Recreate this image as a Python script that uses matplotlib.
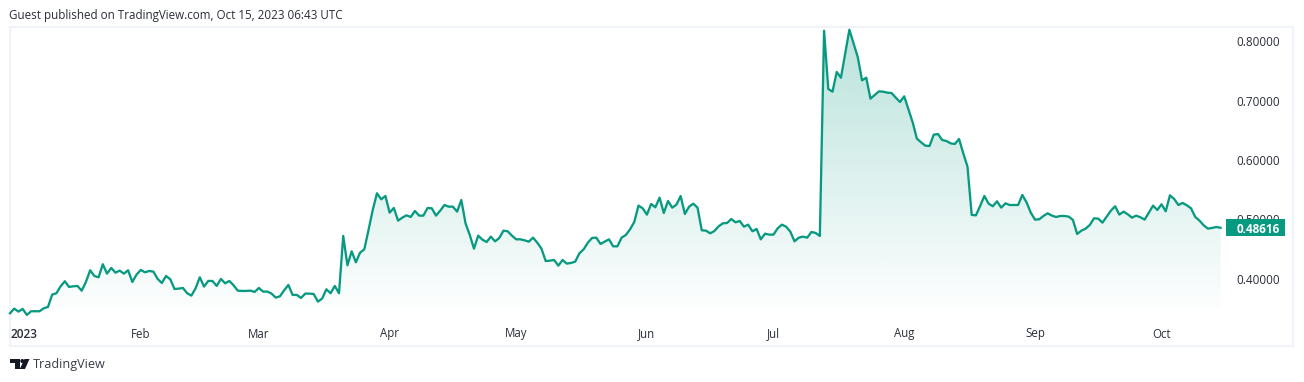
import numpy as np
import pandas as pd
import matplotlib
matplotlib.use('Agg')
import matplotlib.pyplot as plt
from matplotlib.patches import Polygon, Rectangle, Circle

# daily close
jan_apr = [.3423, .3501, .3451, .3496, .3395, .3457, .3457, .3457, .3507, .3529, .3737, .3760, .3877, .3962, .3866,
           .3877, .3883, .3804, .3950, .4147, .4051, .4029, .4248, .4091, .4186, .4107, .4141, .4091, .4147, .3950,
           .4074, .4152, .4113, .4135, .4124, .4001, .3933, .4051, .3995, .3832, .3838, .3849, .3760, .3720, .3844,
           .4029, .3872, .3967, .3967, .3883, .4001, .3928, .3967, .3894, .3804, .3799, .3799, .3804, .3782, .3849,
           .3788, .3788, .3754, .3687, .3709, .3810, .3900, .3732, .3732, .3681, .3754, .3754, .3748, .3619, .3670,
           .3827, .3760, .3883, .3760, .4725, .4231, .4466, .4281, .4444, .4500, .4826, .5162, .5443, .5342, .5398,
           .5117, .5196, .4983, .5033, .5072, .5044, .5145, .5067, .5067, .5196, .5190, .5067, .5151]
apr_jul = [.5246, .5218, .5218, .5134, .5330, .4937, .4741, .4511, .4730, .4662, .4623, .4713, .4634, .4691, .4814,
           .4803, .4730, .4668, .4668, .4651, .4629, .4696, .4612, .4511, .4303, .4309, .4320, .4225, .4320, .4259,
           .4270, .4292, .4433, .4500, .4612, .4691, .4696, .4590, .4629, .4668, .4550, .4550, .4696, .4741, .4836,
           .4960, .5235, .5190, .5083, .5263, .5207, .5369, .5111, .5313, .5201, .5252, .5397, .5094, .5218, .5268,
           .5201, .4820, .4814, .4769, .4808, .4887, .4937, .4943, .5010, .4954, .4977, .4881, .4915, .4803, .4842,
           .4668, .4763, .4747, .4747, .4853, .4915, .4881, .4797, .4634, .4696, .4713, .4696, .4792, .4775, .4724]
jul_aug = [.8180, .7199, .7154, .7485, .7389, .7790, .8197, .7967, .7732, .7344, .7389, .7036, .7098, .7159, .7154,
           .7137, .7131, .7053, .6980, .7075, .6856, .6638, .6363, .6301, .6245, .6239, .6430, .6441, .6340, .6323,
           .6284, .6273, .6357, .6116, .5891, .5078, .5072, .5229, .5398, .5269, .5224, .5308]
aug_oct = [.5201, .5274, .5246, .5246, .5246, .5415, .5291, .5117, .5000, .5005, .5061, .5106, .5067, .5044, .5061,
           .5061, .5050, .4994, .4758, .4814, .4848, .4910, .5022, .5016, .4949, .5050, .5151, .5224, .5084, .5134,
           .5089, .5033, .5067, .5039, .5000, .5117, .5235, .5162, .5258, .5140, .5409, .5347, .5246, .5280, .5241,
           .5190, .5044, .4983, .4904, .4848, .4859, .4876, .48616]
close = jan_apr + apr_jul + jul_aug + aug_oct
price_ticks = [0.4, 0.5, 0.6, 0.7, 0.8]
month_names = ['Feb', 'Mar', 'Apr', 'May', 'Jun', 'Jul', 'Aug', 'Sep', 'Oct']
month_starts = ['2023-02-01', '2023-03-01', '2023-04-01', '2023-05-01', '2023-06-01', '2023-07-01', '2023-08-01',
                '2023-09-01', '2023-10-01']
last_price = 0.48616

plt.rcParams['font.family'] = ['Open Sans', 'DejaVu Sans']
TEAL = '#089981'
TEXT = '#2a2e39'
W, H = 1304, 382

dates = pd.date_range('2023-01-01', periods=len(close), freq='D')
days = (dates - dates[0]).days.values

fig = plt.figure(figsize=(W / 100, H / 100), dpi=100)

# chart panel, placed in pixels
left, right, top, bottom = 10, 1293, 27, 346
ax = fig.add_axes([left / W, 1 - bottom / H, (right - left) / W, (bottom - top) / H])
px_per_day = 4.218
ax.set_xlim(0, (right - left) / px_per_day)
ax.set_ylim(0.4 + (279 - bottom) / 594, 0.4 + (279 - top) / 594)

# gradient under the line
fill_floor = 0.4 + (279 - 308) / 594
grad = np.zeros((256, 2, 4))
grad[..., :3] = matplotlib.colors.to_rgb(TEAL)
grad[..., 3] = np.linspace(0.28, 0.012, 256)[:, None]
im = ax.imshow(grad, extent=[days[0], days[-1], fill_floor, max(close)], origin='upper', aspect='auto', zorder=1)
poly = Polygon(list(zip(days, close)) + [(days[-1], fill_floor), (days[0], fill_floor)], closed=True,
               transform=ax.transData, fc='none', ec='none')
ax.add_patch(poly)
im.set_clip_path(poly)
ax.set_xlim(0, (right - left) / px_per_day)
ax.set_ylim(0.4 + (279 - bottom) / 594, 0.4 + (279 - top) / 594)

ax.plot(days, close, color=TEAL, lw=1.65, solid_joinstyle='round', zorder=3, clip_on=False)

for s in ax.spines.values():
    s.set_color('#f0f3fa')
    s.set_linewidth(1.5)
ax.set_xticks([])
ax.set_yticks([])

# price scale, nudged down a pixel so the digits sit on their level
nudge = 1.2 / 594
for p in price_ticks:
    ax.text((1258 - left) / px_per_day, p - nudge, '%.5f' % p, color=TEXT, fontsize=8.5, ha='center', va='center',
            zorder=2)
box_x0, box_x1 = (1226 - left) / px_per_day, (1285 - left) / px_per_day
ax.add_patch(Rectangle((box_x0, last_price - 8.5 / 594), box_x1 - box_x0, 17 / 594, fc=TEAL, ec='none', zorder=4))
ax.text((1258 - left) / px_per_day, last_price - nudge, '%.5f' % last_price, color='white', fontsize=8.5,
        fontweight='bold', ha='center', va='center', zorder=5)

# time scale
label_y = 0.4 + (279 - 334) / 594
ax.text(0.2, label_y, '2023', color=TEXT, fontsize=8.6, fontweight='semibold', ha='left', va='center')
for name, d in zip(month_names, month_starts):
    ax.text((pd.Timestamp(d) - dates[0]).days, label_y, name, color=TEXT, fontsize=8.3, ha='center', va='center')

# header, footer and logo on a pixel overlay
over = fig.add_axes([0, 0, 1, 1], facecolor='none')
over.set_xlim(0, W)
over.set_ylim(H, 0)
over.axis('off')
over.text(9, 15, 'Guest published on TradingView.com, Oct 15, 2023 06:43 UTC', color=TEXT, fontsize=8.35,
          ha='left', va='center')
over.text(33, 364.5, 'TradingView', color='#3a3e46', fontsize=9.1, ha='left', va='center')
over.add_patch(Polygon([(10, 359), (19.5, 359), (19.5, 369), (15, 369), (15, 363), (10, 363)], fc='#131722', ec='none'))
over.add_patch(Circle((22.3, 361), 2, fc='#131722', ec='none'))
over.add_patch(Polygon([(24.5, 359), (29.5, 359), (25, 369), (19.8, 369)], fc='#131722', ec='none'))

fig.savefig('out.png', dpi=100, facecolor='white')
